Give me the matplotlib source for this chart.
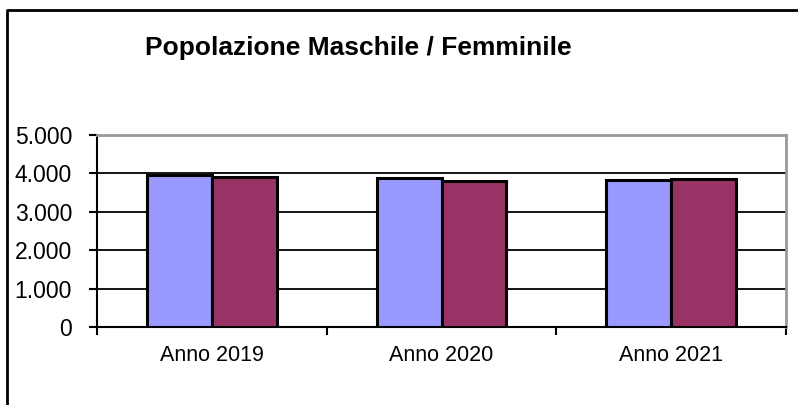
import matplotlib.pyplot as plt
import numpy as np
from matplotlib.lines import Line2D
from matplotlib.ticker import FuncFormatter

# dati
anni = ['Anno 2019', 'Anno 2020', 'Anno 2021']
maschi = [3960, 3890, 3830]
femmine = [3900, 3810, 3845]

plt.rcParams['font.family'] = ['Liberation Sans', 'DejaVu Sans']

fig = plt.figure(figsize=(7.98, 4.05), dpi=100)
W, H = 798, 405
ax = fig.add_axes([97 / W, 1 - 327 / H, (786 - 97) / W, (327 - 135) / H])

x = np.arange(len(anni))
w = 65 / 230
ax.bar(x - w / 2, maschi, w, color='#9999FF', edgecolor='black', linewidth=2.2, zorder=3)
ax.bar(x + w / 2, femmine, w, color='#993366', edgecolor='black', linewidth=2.2, zorder=3)

ax.set_xlim(-0.5, len(anni) - 0.5)
ax.set_ylim(0, 5000)
ax.set_yticks(range(0, 5001, 1000))
ax.yaxis.set_major_formatter(FuncFormatter(lambda v, p: f'{int(v):,}'.replace(',', '.')))
ax.yaxis.grid(True, color='black', linewidth=1.3, zorder=0)

# tick x tra le categorie, etichette al centro
ax.set_xticks(np.arange(len(anni) + 1) - 0.5)
ax.set_xticklabels([])
ax.set_xticks(x, minor=True)
ax.set_xticklabels(anni, minor=True, fontsize=15.5)
ax.tick_params(axis='x', which='minor', length=0, pad=13)
ax.tick_params(axis='x', which='major', direction='out', length=6, width=1.5)
ax.tick_params(axis='y', direction='out', length=6, width=1.5, labelsize=16.5, pad=12)

for s in ['left', 'bottom']:
    ax.spines[s].set_color('black')
    ax.spines[s].set_linewidth(1.5)
for s in ['top', 'right']:
    ax.spines[s].set_color('#999999')
    ax.spines[s].set_linewidth(2)

fig.text(358 / W, 1 - 48 / H, 'Popolazione Maschile / Femminile', ha='center', va='center',
         fontsize=19, fontweight='bold')

# cornice esterna del grafico
fig.add_artist(Line2D([7 / W, 7 / W, 1], [0, 1 - 10 / H, 1 - 10 / H], transform=fig.transFigure,
                      color='black', linewidth=2))

fig.savefig('out.png', dpi=100)
